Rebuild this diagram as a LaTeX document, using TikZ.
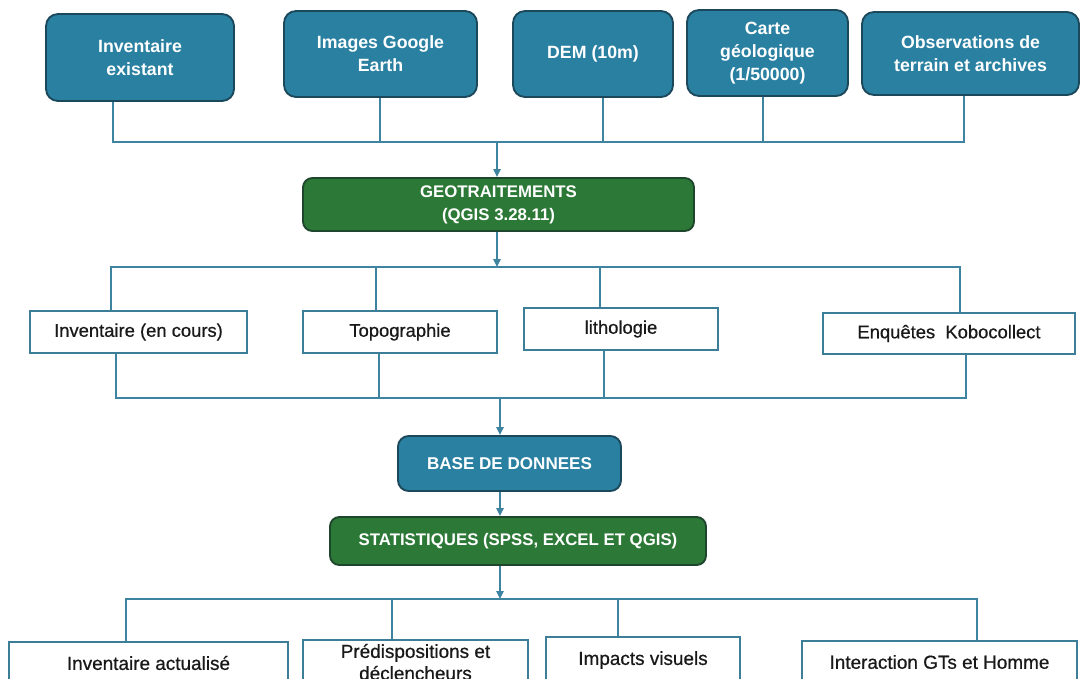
\documentclass[tikz,border=0pt]{standalone}
\usepackage{fontspec}
\setmainfont{Liberation Sans}
\newfontfamily\medfont[FakeBold=0.6]{Liberation Sans}
\usetikzlibrary{arrows.meta}
\definecolor{bluefill}{RGB}{42,128,161}
\definecolor{blueedge}{RGB}{28,72,92}
\definecolor{greenfill}{RGB}{44,120,54}
\definecolor{greenedge}{RGB}{30,70,45}
\definecolor{linec}{RGB}{62,132,160}
\definecolor{wedge}{RGB}{60,126,152}
\definecolor{wtext}{RGB}{25,25,25}
\begin{document}
\begin{tikzpicture}[x=0.75pt,y=-0.75pt,
 bluebox/.style={draw=blueedge, line width=1.4pt, fill=bluefill, rounded corners=9pt, text=white,
   font=\bfseries\fontsize{13.3}{17.25}\selectfont, align=center, inner sep=0pt},
 greenbox/.style={draw=greenedge, line width=1.4pt, fill=greenfill, rounded corners=7pt, text=white,
   font=\bfseries\fontsize{12.6}{17.25}\selectfont, align=center, inner sep=0pt},
 whitebox/.style={draw=wedge, line width=1.4pt, fill=white, text=wtext,
   font=\medfont\fontsize{13.8}{16.5}\selectfont, align=center, inner sep=0pt},
 lowbox/.style={whitebox, font=\medfont\fontsize{14.2}{16.5}\selectfont},
 conn/.style={draw=linec, line width=1.4pt},
 arr/.style={conn, -{Triangle[length=6pt,width=5.5pt]}},
]
\useasboundingbox (0,0) rectangle (1080,678);
\clip (0,0) rectangle (1080,678);

% top sources
\node[bluebox, minimum width=141pt, minimum height=65.25pt] (a1) at (140,57.5) {Inventaire\\existant};
\node[bluebox, minimum width=144.75pt, minimum height=64.5pt] (a2) at (380.5,54) {Images Google\\Earth};
\node[bluebox, minimum width=120pt, minimum height=64.5pt] (a3) at (593,54) {DEM (10m)};
\node[bluebox, minimum width=120.75pt, minimum height=64.5pt] (a4) at (767.5,53) {Carte\\géologique\\(1/50000)};
\node[bluebox, minimum width=162.75pt, minimum height=62.25pt] (a5) at (970.5,53.5) {Observations de\\terrain et archives};

\node[greenbox, minimum width=293.25pt, minimum height=39.75pt] (geo) at (498.5,204.5) {GEOTRAITEMENTS\\(QGIS 3.28.11)};

% level 2
\node[whitebox, minimum width=162.75pt, minimum height=31.5pt] (b1) at (138.5,332) {Inventaire (en cours)};
\node[whitebox, minimum width=145.5pt, minimum height=31.5pt] (b2) at (400,332) {Topographie};
\node[whitebox, minimum width=145.5pt, minimum height=31.5pt] (b3) at (621,329) {lithologie};
\node[whitebox, minimum width=189pt, minimum height=30.75pt] (b4) at (949,333.5) {Enquêtes~~Kobocollect};

\node[bluebox, rounded corners=8pt, font=\bfseries\fontsize{12.8}{16}\selectfont, minimum width=167.25pt, minimum height=41.25pt] (base) at (509.5,463.5) {BASE DE DONNEES};
\node[greenbox, minimum width=282pt, minimum height=36pt] (stat) at (518,541) {STATISTIQUES (SPSS, EXCEL ET QGIS)};

% bottom
\node[lowbox, minimum width=209.25pt, minimum height=31.5pt] (c1) at (148.5,663) {Inventaire actualisé};
\node[lowbox, minimum width=168.75pt, minimum height=33pt] (c2) at (415.5,662) {Prédispositions et\\déclencheurs};
\node[lowbox, minimum width=145.5pt, minimum height=34.5pt] (c3) at (643,660) {Impacts visuels};
\node[lowbox, minimum width=206.25pt, minimum height=31.5pt] (c4) at (939.5,662) {Interaction GTs et Homme};

% bus 1
\coordinate (t1) at (113,142);
\coordinate (t2) at (380,142);
\coordinate (t3) at (603,142);
\coordinate (t4) at (763,142);
\coordinate (t5) at (964,142);
\coordinate (tm) at (497,142);
\draw[conn] (t1 |- a1.south) -- (t1) -- (t5) -- (t5 |- a5.south);
\draw[conn] (t2 |- a2.south) -- (t2);
\draw[conn] (t3 |- a3.south) -- (t3);
\draw[conn] (t4 |- a4.south) -- (t4);
\draw[arr] (tm) -- (tm |- geo.north);

% bus 2
\coordinate (u1) at (111,267);
\coordinate (u2) at (376,267);
\coordinate (u3) at (600,267);
\coordinate (u4) at (960,267);
\coordinate (um) at (497,267);
\draw[arr] (geo.south -| um) -- (um);
\draw[conn] (b1.north -| u1) -- (u1) -- (u4) -- (b4.north -| u4);
\draw[conn] (u2) -- (b2.north -| u2);
\draw[conn] (u3) -- (b3.north -| u3);

% bus 3
\coordinate (v1) at (116,398);
\coordinate (v2) at (379,398);
\coordinate (v3) at (604,398);
\coordinate (v4) at (966,398);
\coordinate (vm) at (500,398);
\draw[conn] (b1.south -| v1) -- (v1) -- (v4) -- (b4.south -| v4);
\draw[conn] (b2.south -| v2) -- (v2);
\draw[conn] (b3.south -| v3) -- (v3);
\draw[arr] (vm) -- (vm |- base.north);

\draw[arr] (base.south -| vm) -- (stat.north -| vm);

% bus 4
\coordinate (s1) at (126,599);
\coordinate (s2) at (392,599);
\coordinate (s3) at (618,599);
\coordinate (s4) at (977,599);
\coordinate (sm) at (500,599);
\draw[arr] (stat.south -| sm) -- (sm);
\draw[conn] (c1.north -| s1) -- (s1) -- (s4) -- (c4.north -| s4);
\draw[conn] (s2) -- (c2.north -| s2);
\draw[conn] (s3) -- (c3.north -| s3);
\end{tikzpicture}
\end{document}
